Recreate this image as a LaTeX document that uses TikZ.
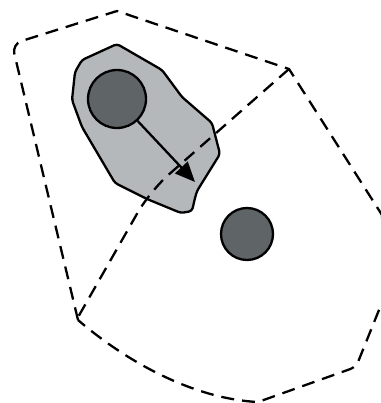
\documentclass[tikz,border=0pt]{standalone}
\usetikzlibrary{arrows.meta}
\definecolor{blobgray}{HTML}{B4B8BA}
\definecolor{dotgray}{HTML}{5F6466}
\begin{document}
\begin{tikzpicture}[x=1pt,y=-1pt,
  dashline/.style={line width=2.3pt,dash pattern=on 13pt off 8pt},
  outline/.style={line width=2.3pt,line join=round},
  dot/.style={circle,draw,line width=2.3pt,fill=dotgray,inner sep=0pt}]
\useasboundingbox (0,0) rectangle (380,403);
% outer dashed region
\draw[dashline] (78,320) [rounded corners=10pt] -- (12,44) [sharp corners] -- (117,11) -- (289,69) -- (382,215) -- (383,300) [rounded corners=6pt] -- (356,367) [sharp corners] -- (258,402) .. controls (195,399) and (128,363) .. (78,320);
% gray blob
\draw[outline,fill=blobgray,rounded corners=3pt] (117,44) -- (82,60) -- (75,72) -- (72,100) -- (82,127) -- (115,183) -- (147,199) -- (181,213) -- (192,211) -- (195,198) -- (197,191) -- (220,154) -- (212,123) -- (182,97) -- (162,70) -- cycle;
% dots
\node[dot,minimum size=58pt] (p) at (117,99) {};
\node[dot,minimum size=52pt] (q) at (247,234) {};
\coordinate (tip) at (195,182);
\draw[line width=2.3pt,-{Triangle[length=20pt,width=17pt]}] (p) -- (tip);
% inner dashed line
\draw[dashline,rounded corners=25pt] (289,69) -- (150,191) -- (77,319);
\end{tikzpicture}
\end{document}
